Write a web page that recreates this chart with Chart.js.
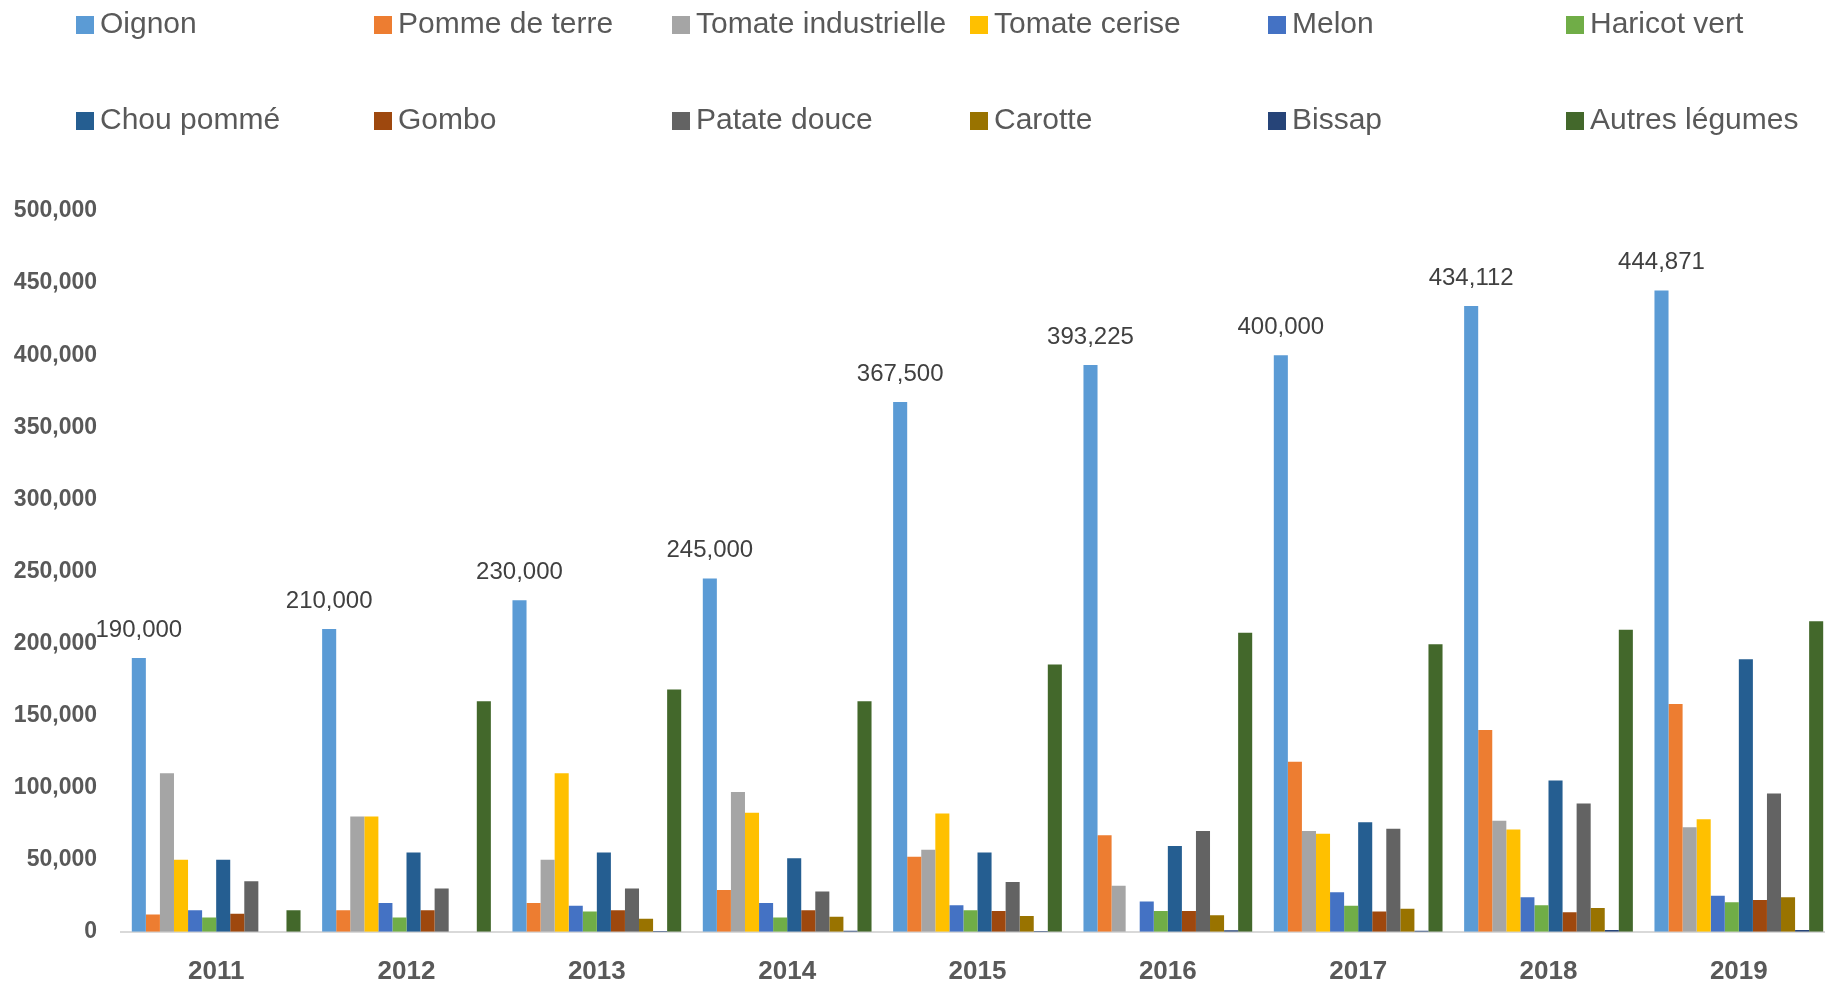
<!DOCTYPE html>
<html>
<head>
<meta charset="utf-8">
<script src="https://cdn.jsdelivr.net/npm/chart.js@4/dist/chart.umd.min.js"></script>
<style>
  html, body { margin: 0; padding: 0; background: #fff; overflow: hidden; }
  #wrap { position: absolute; left: 0; top: 0; width: 1840px; height: 1015px; }
  #legend {
    position: absolute; left: 76px; top: 0;
    display: grid; grid-template-columns: repeat(6, 298px); grid-auto-rows: 96px;
    font-family: "Liberation Sans", Arial, sans-serif; font-size: 30px; color: #595959;
  }
  .item { display: flex; align-items: center; height: 46px; white-space: nowrap; }
  .box { width: 18px; height: 18px; margin-right: 6px; margin-top: 3px; flex: none; }
</style>
</head>
<body>
<div id="wrap"><canvas id="chart"></canvas></div>
<div id="legend"></div>
<script>
const years = ["2011", "2012", "2013", "2014", "2015", "2016", "2017", "2018", "2019"];
const seriesNames = ["Oignon", "Pomme de terre", "Tomate industrielle", "Tomate cerise", "Melon", "Haricot vert",
  "Chou pommé", "Gombo", "Patate douce", "Carotte", "Bissap", "Autres légumes"];
const colors = ["#5B9BD5", "#ED7D31", "#A5A5A5", "#FFC000", "#4472C4", "#70AD47",
  "#255E91", "#9E480E", "#636363", "#997300", "#264478", "#43682B"];

const oignon = [190000, 210000, 230000, 245000, 367500, 393225, 400000, 434112, 444871];
const pommeDeTerre = [12000, 15000, 20000, 29000, 52000, 67000, 118000, 140000, 158000];
const tomateIndustrielle = [110000, 80000, 50000, 97000, 57000, 32000, 70000, 77000, 72500];
const tomateCerise = [50000, 80000, 110000, 82500, 82000, 0, 68000, 71000, 78000];
const melon = [15000, 20000, 18000, 20000, 18500, 21000, 27500, 24000, 25000];
const haricotVert = [10000, 10000, 14000, 10000, 15000, 14500, 18000, 18500, 20500];
const chouPomme = [50000, 55000, 55000, 51000, 55000, 59500, 76000, 105000, 189000];
const gombo = [12500, 15000, 15000, 15000, 14500, 14500, 14000, 13500, 22000];
const patateDouce = [35000, 30000, 30000, 28000, 34500, 70000, 71500, 89000, 96000];
const carotte = [0, 0, 9000, 10500, 11000, 11500, 16000, 16500, 24000];
const bissap = [0, 0, 500, 700, 500, 1000, 800, 1200, 1200];
const autresLegumes = [15000, 160000, 168000, 160000, 185500, 207500, 199500, 209500, 215500];

const yTicks = [0, 50000, 100000, 150000, 200000, 250000, 300000, 350000, 400000, 450000, 500000];

const allSeries = [oignon, pommeDeTerre, tomateIndustrielle, tomateCerise, melon, haricotVert,
  chouPomme, gombo, patateDouce, carotte, bissap, autresLegumes];

// legend in html, fixed columns like the original
const legendEl = document.getElementById("legend");
seriesNames.forEach((name, i) => {
  const item = document.createElement("div");
  item.className = "item";
  item.innerHTML = `<span class="box" style="background:${colors[i]}"></span><span>${name}</span>`;
  legendEl.appendChild(item);
});

const fmt = (v) => v.toLocaleString("en-US");

// value labels above the Oignon bars
const oignonLabels = {
  id: "oignonLabels",
  afterDatasetsDraw(chart) {
    const ctx = chart.ctx;
    const meta = chart.getDatasetMeta(0);
    ctx.save();
    ctx.font = '24px "Liberation Sans", Arial, sans-serif';
    ctx.fillStyle = "#404040";
    ctx.textAlign = "center";
    ctx.textBaseline = "middle";
    meta.data.forEach((bar, i) => {
      ctx.fillText(fmt(oignon[i]), bar.x, bar.y - 28);
    });
    ctx.restore();
  }
};

const ctx = document.getElementById("chart").getContext("2d");
new Chart(ctx, {
  type: "bar",
  data: {
    labels: years,
    datasets: seriesNames.map((name, i) => ({
      label: name,
      data: allSeries[i],
      backgroundColor: colors[i],
      categoryPercentage: 0.8865,
      barPercentage: 1.0
    }))
  },
  options: {
    responsive: true,
    maintainAspectRatio: false,
    animation: false,
    layout: { padding: { top: 211, right: 6, bottom: 4, left: 0 } },
    plugins: {
      legend: { display: false },
      tooltip: { enabled: false }
    },
    scales: {
      x: {
        grid: { display: false, drawTicks: false },
        border: { display: true, color: "#D9D9D9", width: 2 },
        ticks: {
          padding: 24,
          color: "#595959",
          font: { family: '"Liberation Sans", Arial, sans-serif', size: 26, weight: "bold" }
        }
      },
      y: {
        min: 0,
        max: 500000,
        afterBuildTicks: (axis) => { axis.ticks = yTicks.map((v) => ({ value: v })); },
        afterFit: (axis) => { axis.width = 121; },
        grid: { display: false, drawTicks: false },
        border: { display: false },
        ticks: {
          padding: 24,
          color: "#595959",
          font: { family: '"Liberation Sans", Arial, sans-serif', size: 23, weight: "bold" },
          callback: (v) => fmt(v)
        }
      }
    }
  },
  plugins: [oignonLabels]
});
</script>
</body>
</html>
